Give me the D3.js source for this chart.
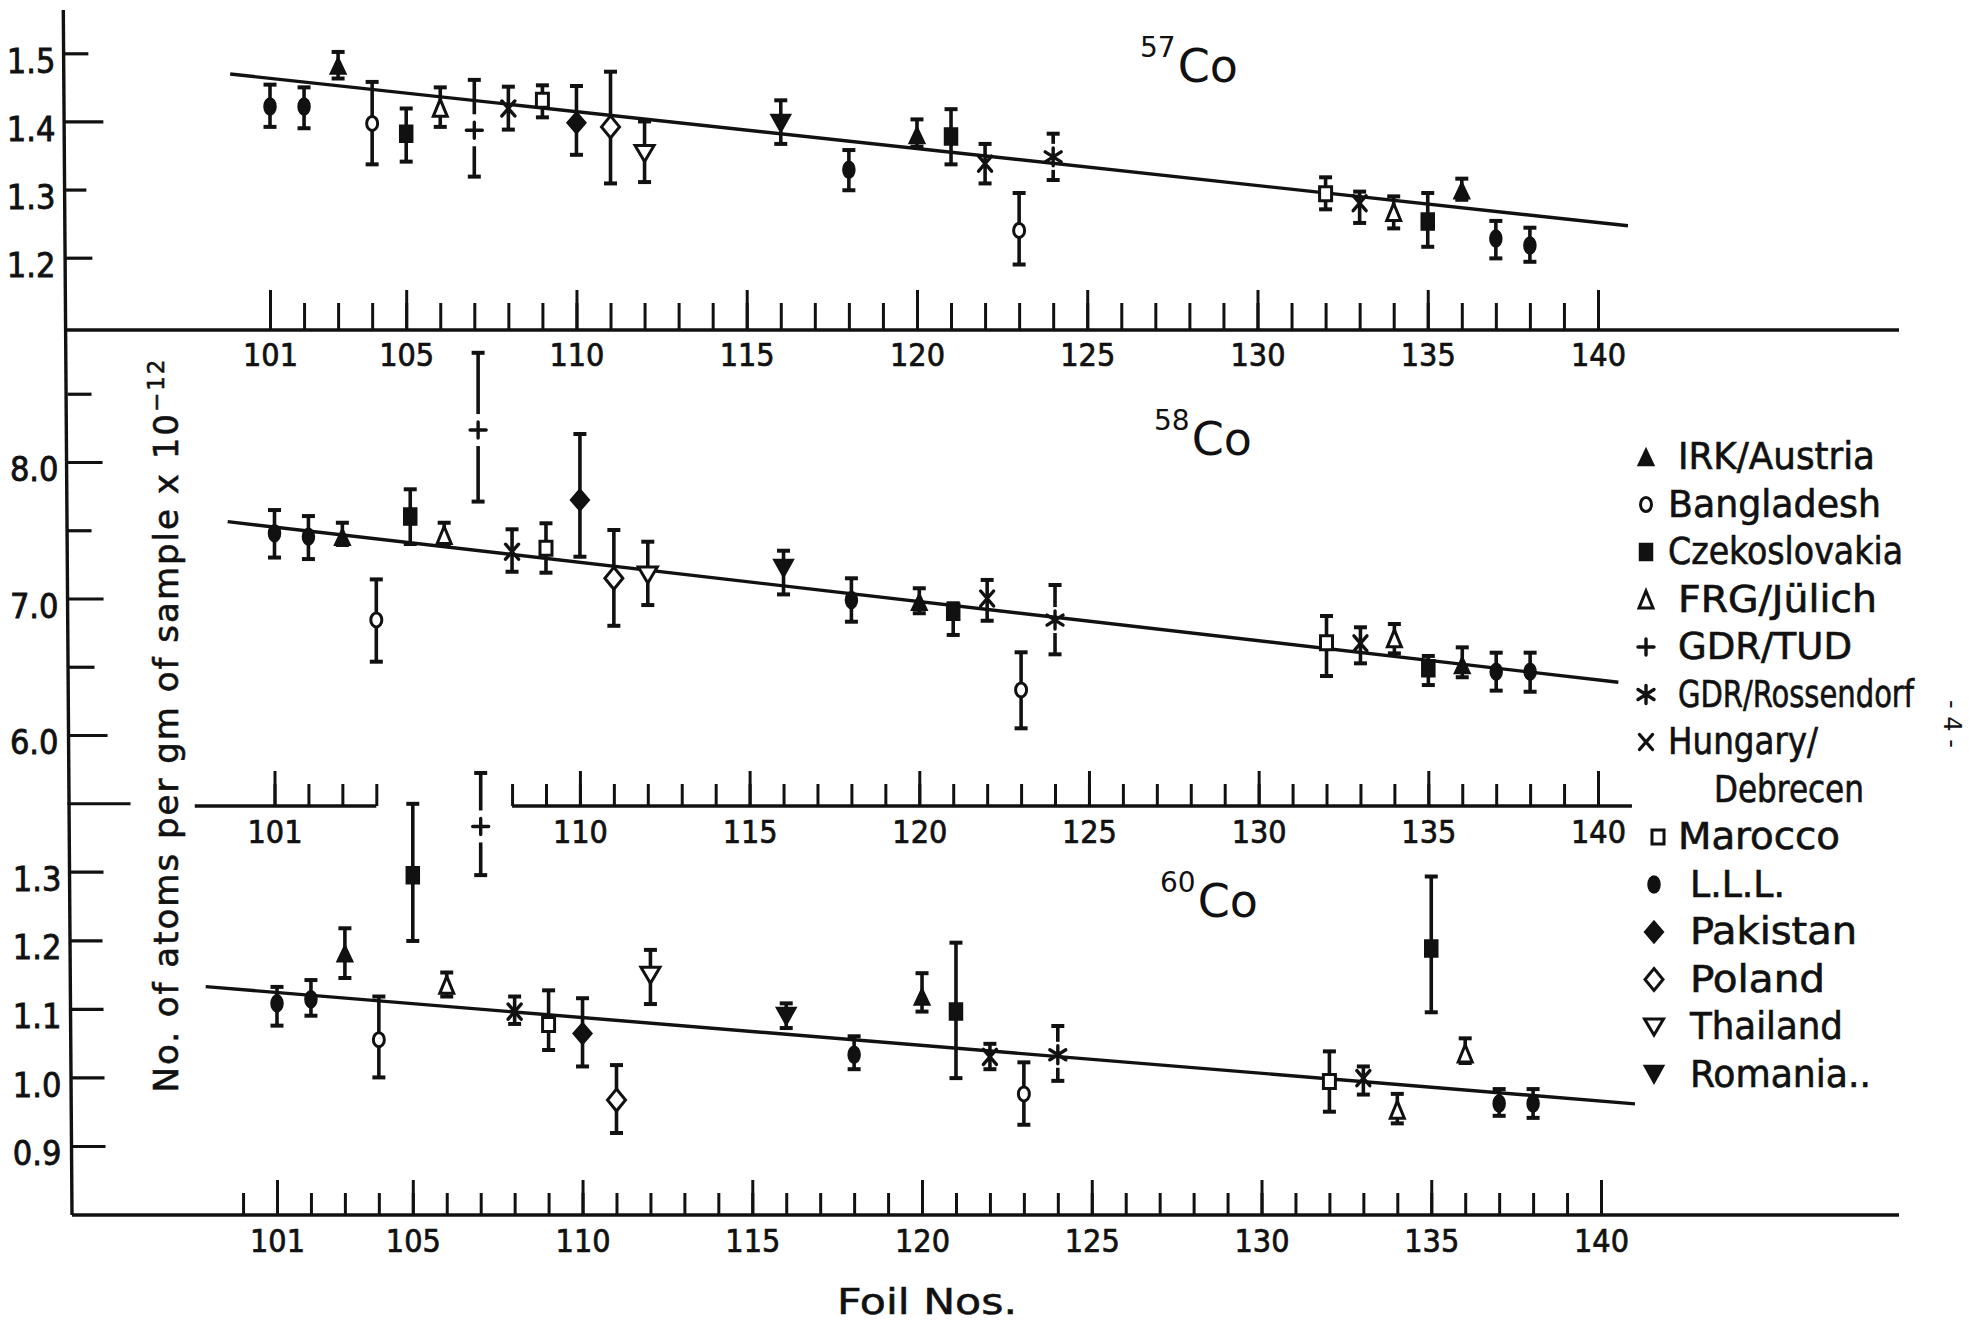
<!DOCTYPE html>
<html><head><meta charset="utf-8">
<script src="https://cdn.jsdelivr.net/npm/d3@7"></script>
<style>
body{margin:0;background:#fff}
svg{display:block;background:#fff}
.tick text{fill:#111}
</style>
</head><body>
<svg id="chart" width="1977" height="1322"></svg>
<script>
// ---------------- DATA ----------------
const foils = [101,102,103,104,105,106,107,108,109,110,111,112,116,118,120,121,122,123,124,132,133,134,135,136,137,138];

const co57Lab = ["LLL","LLL","IRK","BAN","CZE","FRG","TUD","HUN","MAR","PAK","POL","THA","ROM","LLL","IRK","CZE","HUN","BAN","ROS","MAR","HUN","FRG","CZE","IRK","LLL","LLL"];
const co57Val = [1.422,1.422,1.482,1.397,1.382,1.420,1.387,1.419,1.431,1.398,1.392,1.353,1.397,1.329,1.380,1.378,1.338,1.240,1.348,1.294,1.280,1.267,1.253,1.299,1.228,1.218];
const co57Lo  = [1.392,1.390,1.463,1.337,1.341,1.392,1.319,1.388,1.406,1.351,1.309,1.311,1.367,1.299,1.363,1.337,1.309,1.190,1.314,1.271,1.251,1.243,1.216,1.285,1.199,1.194];
const co57Hi  = [1.454,1.450,1.502,1.458,1.419,1.450,1.461,1.451,1.453,1.452,1.473,1.400,1.431,1.358,1.403,1.418,1.367,1.295,1.382,1.318,1.297,1.290,1.295,1.316,1.254,1.244];
const co57FitFoil = [99.83,140.88];
const co57FitVal  = [1.4696,1.2469];

const co58Lab = ["LLL","LLL","IRK","BAN","CZE","FRG","TUD","HUN","MAR","PAK","POL","THA","ROM","LLL","IRK","CZE","HUN","BAN","ROS","MAR","HUN","FRG","CZE","IRK","LLL","LLL"];
const co58Val = [7.478,7.453,7.453,6.843,7.600,7.465,8.234,7.343,7.368,7.722,7.148,7.172,7.220,6.989,6.977,6.903,7.000,6.330,6.842,6.676,6.672,6.708,6.489,6.513,6.464,6.464];
const co58Lo  = [7.300,7.289,7.392,6.537,7.399,7.390,7.710,7.196,7.189,7.306,6.800,6.952,7.030,6.830,6.892,6.733,6.837,6.049,6.591,6.432,6.525,6.598,6.366,6.423,6.325,6.317];
const co58Hi  = [7.648,7.604,7.555,7.140,7.800,7.555,8.800,7.507,7.551,8.205,7.502,7.416,7.350,7.148,7.075,6.965,7.136,6.606,7.099,6.872,6.789,6.813,6.579,6.642,6.603,6.603];
const co58FitFoil = [99.62,140.6];
const co58FitVal  = [7.563,6.386];

const co60Lab = ["LLL","LLL","IRK","BAN","CZE","FRG","TUD","HUN","MAR","PAK","POL","THA","ROM","LLL","IRK","CZE","HUN","BAN","ROS","MAR","HUN","FRG","CZE","FRG","LLL","LLL"];
const co60Val = [1.108,1.114,1.181,1.055,1.295,1.135,1.366,1.096,1.077,1.064,0.967,1.149,1.089,1.033,1.118,1.096,1.030,0.976,1.033,0.994,0.999,0.953,1.188,1.035,0.962,0.962];
const co60Lo  = [1.0755,1.090,1.145,1.000,1.199,1.118,1.295,1.078,1.040,1.016,0.919,1.107,1.072,1.012,1.096,0.999,1.012,0.931,0.995,0.950,0.975,0.933,1.095,1.021,0.944,0.941];
const co60Hi  = [1.132,1.142,1.2175,1.118,1.399,1.153,1.444,1.118,1.127,1.1155,1.018,1.186,1.108,1.060,1.152,1.1965,1.049,1.022,1.075,1.038,1.016,0.976,1.293,1.057,0.983,0.983];
const co60FitFoil = [98.9,141.0];
const co60FitVal  = [1.1324,0.9614];

// tick values / labels
const topMinorTicks = d3.range(101,141);
const topMajorTicks = [101,105,110,115,120,125,130,135,140];
const midMinorTicks = [101,102,103,104].concat(d3.range(108,141));
const midMajorTicks = [101,110,115,120,125,130,135,140];
const botMinorTicks = d3.range(100,141);
const botMajorTicks = [101,105,110,115,120,125,130,135,140];
const midAxisSegments = [[98.65,104],[108,141]];

const co57YTicks = [1.5,1.4,1.3,1.2];
const co58YTicks = [8.5,8.0,7.5,7.0,6.5,6.0,5.5];
const co58YLabels = {8.0:"8.0",7.0:"7.0",6.0:"6.0"};
const co60YTicks = [1.3,1.2,1.1,1.0,0.9];

const legendLabs = ["IRK","BAN","CZE","FRG","TUD","ROS","HUN",null,"MAR","LLL","PAK","POL","THA","ROM"];
const legendText = ["IRK/Austria","Bangladesh","Czekoslovakia","FRG/Jülich","GDR/TUD","GDR/Rossendorf","Hungary/","Debrecen","Marocco","L.L.L.","Pakistan","Poland","Thailand","Romania.."];

// ---------------- LAYOUT ----------------
const INK = "#111";
const svg = d3.select("#chart");
const axisXAt = y => 63.3 + (y - 10) * (8.7 / 1205);
const RIGHT_END = 1899;
const NUMFONT = "'Liberation Sans Narrow','DejaVu Sans Condensed',Arial Narrow,sans-serif";
const TXTFONT = "'DejaVu Sans Condensed','DejaVu Sans',sans-serif";

// main y axis (slightly slanted as in the scan)
svg.append("line").attr("x1",axisXAt(10)).attr("y1",10).attr("x2",axisXAt(1215)).attr("y2",1215)
  .attr("stroke",INK).attr("stroke-width",3.4);

function symbolPath(lab){
  const tri = (w,h)=>`M0,${-h/2}L${w/2},${h/2}L${-w/2},${h/2}Z`;
  const tridn = (w,h)=>`M${-w/2},${-h/2}L${w/2},${-h/2}L0,${h/2}Z`;
  const dia = (w,h)=>`M0,${-h/2}L${w/2},0L0,${h/2}L${-w/2},0Z`;
  const rect = (w,h)=>`M${-w/2},${-h/2}h${w}v${h}h${-w}Z`;
  const ell = (rx,ry)=>`M${-rx},0A${rx},${ry} 0 1 0 ${rx},0A${rx},${ry} 0 1 0 ${-rx},0Z`;
  switch(lab){
    case "IRK": return {d:tri(16,17),fill:true};
    case "BAN": return {d:ell(5.5,7),fill:false};
    case "CZE": return {d:rect(13,17),fill:true};
    case "FRG": return {d:tri(14,17),fill:false};
    case "TUD": return {d:"M-8,0H8M0,-8V8",line:true};
    case "ROS": return {d:"M0,-9V9M-8,-5L8,5M8,-5L-8,5",line:true};
    case "HUN": return {d:"M-6.5,-7.5L6.5,7.5M6.5,-7.5L-6.5,7.5",line:true};
    case "MAR": return {d:rect(12,14),fill:false};
    case "LLL": return {d:ell(6,8.5),fill:true};
    case "PAK": return {d:dia(19,22),fill:true};
    case "POL": return {d:dia(18,22),fill:false};
    case "THA": return {d:tridn(19,16),fill:false};
    case "ROM": return {d:tridn(20,18),fill:true};
  }
}
function drawSymbol(g, lab, cx, cy){
  const s = symbolPath(lab);
  const p = g.append("path").attr("d",s.d).attr("transform",`translate(${cx},${cy})`);
  if(s.line) p.attr("fill","none").attr("stroke",INK).attr("stroke-width",3.4).attr("stroke-linecap","round");
  else if(s.fill) p.attr("fill",INK).attr("stroke",INK).attr("stroke-width",1.5);
  else p.attr("fill","#fff").attr("stroke",INK).attr("stroke-width",3);
}

const panels = [
  {name:"57", lab:co57Lab, val:co57Val, lo:co57Lo, hi:co57Hi, fitF:co57FitFoil, fitV:co57FitVal,
   x:d3.scaleLinear().domain([101,140]).range([270,1598]),
   y:d3.scaleLinear().domain([1.5,1.2]).range([53.3,257.7]),
   axisY:330, minor:topMinorTicks, major:topMajorTicks, majLen:40, minLen:27, pad:13,
   yTicks:co57YTicks, yLen:[24,39,22,28], yFmt:d=>d.toFixed(1), segs:null,
   tx:1140, ty:57},
  {name:"58", lab:co58Lab, val:co58Val, lo:co58Lo, hi:co58Hi, fitF:co58FitFoil, fitV:co58FitVal,
   x:d3.scaleLinear().domain([101,140]).range([274.5,1598]),
   y:d3.scaleLinear().domain([8.0,6.0]).range([462,735]),
   axisY:806, minor:midMinorTicks, major:midMajorTicks, majLen:35, minLen:22, pad:14,
   yTicks:co58YTicks, yLen:[24,35,24,36,27,40,63], yFmt:d=>co58YLabels[d]||"", segs:midAxisSegments,
   tx:1154, ty:430},
  {name:"60", lab:co60Lab, val:co60Val, lo:co60Lo, hi:co60Hi, fitF:co60FitFoil, fitV:co60FitVal,
   x:d3.scaleLinear().domain([101,140]).range([277,1601]),
   y:d3.scaleLinear().domain([1.3,0.9]).range([871.7,1146]),
   axisY:1215, minor:botMinorTicks, major:botMajorTicks, majLen:35, minLen:22, pad:14,
   yTicks:co60YTicks, yLen:[33,32,33,34,35], yFmt:d=>d.toFixed(1), segs:null,
   tx:1160, ty:892}
];

panels.forEach(P=>{
  const g = svg.append("g");
  if(P.segs){
    P.segs.forEach(s=>{
      g.append("line").attr("x1",P.x(s[0])).attr("x2",P.x(s[1])).attr("y1",P.axisY).attr("y2",P.axisY)
        .attr("stroke",INK).attr("stroke-width",3.4);
    });
  } else {
    g.append("line").attr("x1",axisXAt(P.axisY)).attr("x2",RIGHT_END).attr("y1",P.axisY).attr("y2",P.axisY)
      .attr("stroke",INK).attr("stroke-width",3.4);
  }
  const minorAx = d3.axisBottom(P.x).tickValues(P.minor).tickSize(-P.minLen).tickFormat("");
  const gm = g.append("g").attr("transform",`translate(0,${P.axisY})`).call(minorAx);
  const majorAx = d3.axisBottom(P.x).tickValues(P.major).tickSize(-P.majLen).tickPadding(P.pad).tickFormat(d3.format("d"));
  const gM = g.append("g").attr("transform",`translate(0,${P.axisY})`).call(majorAx);
  [gm,gM].forEach(a=>{
    a.select(".domain").remove();
    a.selectAll(".tick line").attr("stroke",INK).attr("stroke-width",3);
  });
  gM.selectAll(".tick text").attr("font-family",NUMFONT).attr("font-size",32).attr("fill",INK)
    .attr("stroke",INK).attr("stroke-width",0.7);

  const midY = (P.y.range()[0]+P.y.range()[1])/2;
  const ax = axisXAt(midY);
  const yAx = d3.axisLeft(P.y).tickValues(P.yTicks).tickSize(-30).tickPadding(9).tickFormat(P.yFmt);
  const gy = g.append("g").attr("transform",`translate(${ax},0)`).call(yAx);
  gy.select(".domain").remove();
  gy.selectAll(".tick line").attr("stroke",INK).attr("stroke-width",3.2).attr("x2",(d,i)=>P.yLen[i]);
  gy.selectAll(".tick text").attr("font-family",NUMFONT).attr("font-size",34).attr("fill",INK).attr("dy","0.55em")
    .attr("stroke",INK).attr("stroke-width",0.8);

  const line = d3.line().x((d,i)=>P.x(P.fitF[i])).y((d,i)=>P.y(P.fitV[i]));
  g.append("path").attr("d",line(P.fitF)).attr("fill","none").attr("stroke",INK).attr("stroke-width",3.4);

  foils.forEach((f,i)=>{
    const cx = P.x(f), cy = P.y(P.val[i]), yl = P.y(P.lo[i]), yh = P.y(P.hi[i]);
    const lab = P.lab[i];
    const gap = lab==="TUD" ? 16 : (lab==="ROS" ? 13 : 0);
    const eg = g.append("g").attr("stroke",INK).attr("stroke-width",3.6).attr("fill","none");
    if(gap>0){
      eg.append("line").attr("x1",cx).attr("x2",cx).attr("y1",yh).attr("y2",Math.min(cy-gap,yl));
      eg.append("line").attr("x1",cx).attr("x2",cx).attr("y1",Math.max(cy+gap,yh)).attr("y2",yl);
    } else {
      eg.append("line").attr("x1",cx).attr("x2",cx).attr("y1",yh).attr("y2",yl);
    }
    eg.append("line").attr("x1",cx-6.5).attr("x2",cx+6.5).attr("y1",yh).attr("y2",yh).attr("stroke-width",4);
    eg.append("line").attr("x1",cx-6.5).attr("x2",cx+6.5).attr("y1",yl).attr("y2",yl).attr("stroke-width",4);
    drawSymbol(g, lab, cx, cy);
  });

  const t = g.append("text").attr("x",P.tx).attr("y",P.ty).attr("font-family","'DejaVu Sans',sans-serif").attr("fill",INK);
  t.append("tspan").attr("font-size",28).text(P.name);
  t.append("tspan").attr("font-size",46).attr("dy",25).attr("dx",2).text("Co");
});

// legend
const lg = svg.append("g");
const legWidths = [197,213,235,199,174,236,150,150,162,95,167,135,153,181];
legendText.forEach((txt,i)=>{
  const cy = 455 + i*47.5;
  const lab = legendLabs[i];
  const symX = i>=9 ? 1654 : (lab==="MAR" ? 1658 : 1646);
  const txX = lab===null ? 1714 : (i>=9 ? 1690 : (["BAN","CZE","HUN"].includes(lab) ? 1668 : 1678));
  if(lab) drawSymbol(lg, lab, symX, cy + 2);
  lg.append("text").attr("x",txX).attr("y",cy+14).attr("font-family",TXTFONT).attr("font-size",37)
    .attr("fill",INK).attr("stroke",INK).attr("stroke-width",0.6)
    .attr("textLength",legWidths[i]).attr("lengthAdjust","spacingAndGlyphs").text(txt);
});

// axis titles
const yt = svg.append("text").attr("transform","translate(178,725) rotate(-90)")
  .attr("text-anchor","middle").attr("font-family","'DejaVu Sans',sans-serif").attr("font-size",34)
  .attr("letter-spacing",2).attr("fill",INK).attr("stroke",INK).attr("stroke-width",0.6);
yt.append("tspan").text("No. of atoms per gm of sample x 10");
yt.append("tspan").attr("font-size",23).attr("dy",-14).text("−12");

svg.append("text").attr("x",927).attr("y",1314).attr("text-anchor","middle")
  .attr("font-family",TXTFONT).attr("font-size",36).attr("fill",INK).attr("stroke",INK).attr("stroke-width",0.5)
  .attr("textLength",180).attr("lengthAdjust","spacingAndGlyphs").text("Foil Nos.");

// page mark
svg.append("text").attr("transform","translate(1944,724) rotate(90)").attr("text-anchor","middle")
  .attr("font-family","'DejaVu Sans',sans-serif").attr("font-size",24).attr("fill",INK).text("- 4 -");
</script>
</body></html>
